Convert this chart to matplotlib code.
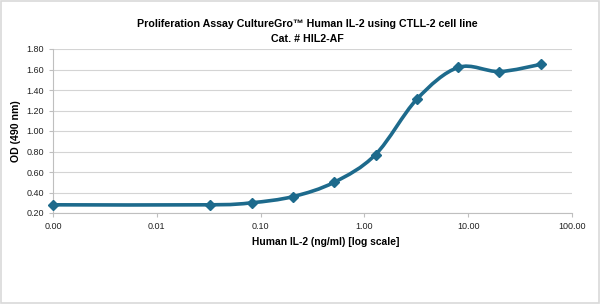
import numpy as np
import matplotlib
matplotlib.use('Agg')
import matplotlib.pyplot as plt
from matplotlib.path import Path
from matplotlib.patches import PathPatch, Rectangle
from matplotlib.ticker import FuncFormatter, FixedLocator, NullLocator

plt.rcParams['font.family'] = ['Liberation Sans', 'DejaVu Sans']

# data (ng/ml, OD 490 nm); first point is the zero-dose well drawn at the axis minimum
conc = [0.001, 0.0328, 0.082, 0.205, 0.512, 1.28, 3.2, 8.0, 20.0, 50.0]
od = [0.28, 0.28, 0.30, 0.36, 0.50, 0.77, 1.31, 1.62, 1.58, 1.65]
xticks = [0.001, 0.01, 0.1, 1, 10, 100]
yticks = [0.2, 0.4, 0.6, 0.8, 1.0, 1.2, 1.4, 1.6, 1.8]

color = '#1d6a8c'

fig = plt.figure(figsize=(6, 3.04), dpi=100)
ax = fig.add_axes([53/600, 1 - 213/304, (572 - 53)/600, (213 - 49)/304])
ax.set_xscale('log')
ax.set_xlim(0.001, 100)
ax.set_ylim(0.2, 1.8)

# smoothed line (Excel-style bezier) in log-x space
lx = np.log10(conc)
y = np.array(od)
n = len(lx)
verts = [(conc[0], od[0])]
codes = [Path.MOVETO]
for i in range(n - 1):
    p0 = (lx[max(i - 1, 0)], y[max(i - 1, 0)])
    p1 = (lx[i], y[i])
    p2 = (lx[i + 1], y[i + 1])
    p3 = (lx[min(i + 2, n - 1)], y[min(i + 2, n - 1)])
    c1 = (p1[0] + (p2[0] - p0[0]) / 6, p1[1] + (p2[1] - p0[1]) / 6)
    c2 = (p2[0] - (p3[0] - p1[0]) / 6, p2[1] - (p3[1] - p1[1]) / 6)
    for c in (c1, c2, p2):
        verts.append((10 ** c[0], c[1]))
        codes.append(Path.CURVE4)
ax.add_patch(PathPatch(Path(verts, codes), fill=False, edgecolor=color,
                       lw=2.6, zorder=3, clip_on=False))
ax.plot(conc, od, ls='none', marker='D', ms=5.5, color=color, zorder=4,
        clip_on=False)

ax.xaxis.set_major_locator(FixedLocator(xticks))
ax.xaxis.set_minor_locator(NullLocator())
ax.xaxis.set_major_formatter(FuncFormatter(lambda v, p: '%.2f' % v))
ax.set_yticks(yticks)
ax.yaxis.set_major_formatter(FuncFormatter(lambda v, p: '%.2f' % v))
ax.grid(axis='y', color='#d4d4d4', lw=0.8)
ax.set_axisbelow(True)
for s in ['top', 'right']:
    ax.spines[s].set_visible(False)
for s in ['left', 'bottom']:
    ax.spines[s].set_color('#bfbfbf')
    ax.spines[s].set_linewidth(0.8)
ax.tick_params(colors='#bfbfbf', labelcolor='#222222', labelsize=6.5,
               length=3, width=0.8)

ax.set_xlabel('Human IL-2 (ng/ml) [log scale]', fontsize=7.4, fontweight='bold')
ax.xaxis.set_label_coords(0.525, -0.145)
ax.set_ylabel('OD (490 nm)', fontsize=7.6, fontweight='bold', labelpad=4)
fig.text(0.513, 1 - 24/304, 'Proliferation Assay CultureGro\u2122 Human IL-2 using CTLL-2 cell line',
         ha='center', va='center', fontsize=7.7, fontweight='bold')
fig.text(0.513, 1 - 39/304, 'Cat. # HIL2-AF', ha='center', va='center',
         fontsize=7.7, fontweight='bold')

fig.patches.append(Rectangle((0.002, 0.003), 0.996, 0.994, transform=fig.transFigure,
                             fill=False, edgecolor='#d9d9d9', lw=1.2))

fig.savefig('out.png', dpi=100)
